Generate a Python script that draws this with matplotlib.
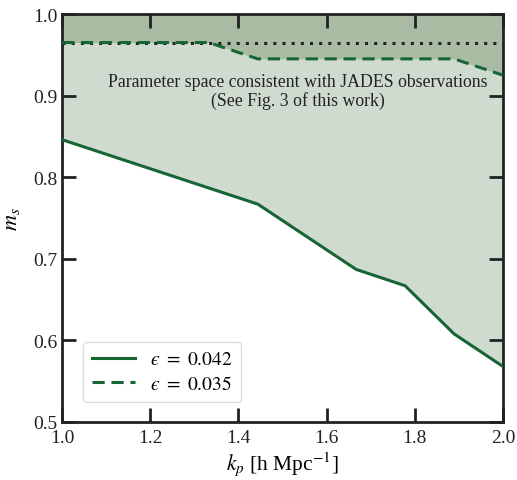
import matplotlib
matplotlib.use("Agg")
import matplotlib.pyplot as plt
import numpy as np

# k_p [h Mpc^-1] vertices of each boundary
kp_solid = [1.0, 1.444, 1.667, 1.778, 1.889, 2.0]
ms_solid = [0.846, 0.767, 0.687, 0.667, 0.608, 0.568]   # eps = 0.042

kp_dash = [1.0, 1.333, 1.444, 1.889, 2.0]
ms_dash = [0.965, 0.965, 0.945, 0.945, 0.925]           # eps = 0.035

ms_dot = 0.965
labels = ["$\u03f5\\ =\\ 0.042$", "$\u03f5\\ =\\ 0.035$"]

plt.rcParams["font.family"] = ["Liberation Serif", "DejaVu Serif"]
plt.rcParams["mathtext.fontset"] = "stix"

line_c = "#176534"

fig = plt.figure(figsize=(5.17, 4.81), dpi=100)
ax = fig.add_axes([62 / 517, 58 / 481, 441 / 517, 408 / 481])

ax.fill_between(kp_solid, ms_solid, 1.0, color="#d0dbd0", lw=0, zorder=1)
ax.fill_between(kp_dash, ms_dash, 1.0, color="#aabba4", lw=0, zorder=1)

ax.plot(kp_solid, ms_solid, color=line_c, lw=2.2, label=labels[0], zorder=3)
ax.plot(kp_dash, ms_dash, color=line_c, lw=2.2, ls=(0, (4, 2.2)),
        label=labels[1], zorder=3)
ax.axhline(ms_dot, color="#222222", lw=2.2, ls=(0, (1, 2)), zorder=2)

ax.text(1.535, 0.906,
        "Parameter space consistent with JADES observations\n(See Fig. 3 of this work)",
        ha="center", va="center", fontsize=12.8, color="#222222", linespacing=1.05)

ax.set_xlim(1.0, 2.0)
ax.set_ylim(0.5, 1.0)
ax.set_xticks([1.0, 1.2, 1.4, 1.6, 1.8, 2.0])
ax.set_yticks([0.5, 0.6, 0.7, 0.8, 0.9, 1.0])
ax.tick_params(direction="in", top=True, right=True, length=10, width=2,
               labelsize=14, colors="#222222", pad=3)
ax.tick_params(axis="x", pad=5)
for s in ax.spines.values():
    s.set_linewidth(2)
    s.set_color("#222222")

ax.set_xlabel(r"$k_p$ [h Mpc$^{-1}$]", fontsize=15.5, labelpad=2)
ax.set_ylabel(r"$m_s$", fontsize=16, labelpad=8)

leg = ax.legend(loc="lower left", bbox_to_anchor=(0.048, 0.049), borderaxespad=0,
                fontsize=14, handlelength=2.2, handletextpad=0.8,
                frameon=True, fancybox=True, borderpad=0.45, labelspacing=0.35)
leg.get_frame().set_edgecolor("#dddddd")
leg.get_frame().set_facecolor("white")
leg.get_frame().set_alpha(1.0)

fig.savefig("out.png", dpi=100)
